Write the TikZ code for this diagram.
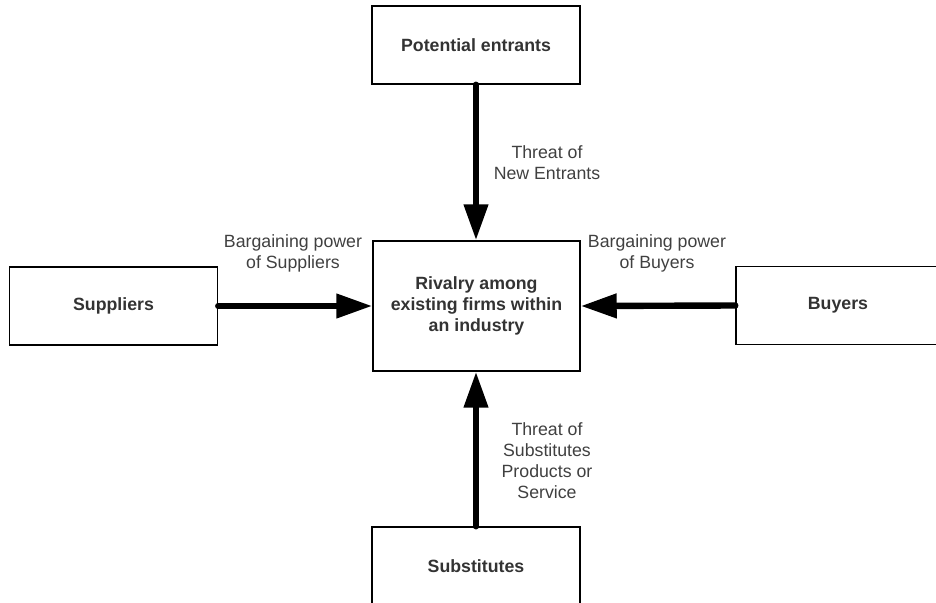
\documentclass[tikz,border=0pt]{standalone}
\usepackage{fontspec}
\setmainfont{Liberation Sans}
\usetikzlibrary{arrows.meta}
\begin{document}
\begin{tikzpicture}[x=0.75pt,y=-0.75pt,
        forcebox/.style={draw,line width=1.1pt,minimum width=156pt,minimum height=58.5pt,align=center,
            font=\fontsize{13.3}{15.75}\selectfont\bfseries,text=black!80},
        pull/.style={line width=4.8pt,line cap=round,-{Triangle[length=27pt,width=17.5pt]}},
        note/.style={align=center,font=\fontsize{13.3}{15.75}\selectfont,text=black!75}]
        \clip (0,0) rectangle (936,603);

        \node[forcebox] (entrants) at (476,45) {Potential entrants};
        \node[forcebox,minimum width=155.25pt,minimum height=97.5pt] (rivalry) at (476.5,306)
            {Rivalry among\\existing firms within\\an industry};
        \node[forcebox] (suppliers) at (113.5,306) {Suppliers};
        \node[forcebox,minimum width=153pt] (buyers) at (838,305.5) {Buyers};
        \node[forcebox] (substitutes) at (476,566) {Substitutes};

        \draw[pull] (entrants.south) -- (entrants.south |- rivalry.north);
        \draw[pull] (substitutes.north) -- (substitutes.north |- rivalry.south);
        \draw[pull] (suppliers.east) -- (rivalry.west);
        \draw[pull] (buyers.west) -- (rivalry.east);

        \node[note] (newthreat) at (547,162.5) {Threat of\\New Entrants};
        \node[note] (supplierpower) at (293,253) {Bargaining power\\of Suppliers};
        \node[note] (buyerpower) at (657,253) {Bargaining power\\of Buyers};
        \node[note] (subthreat) at (547,460.5) {Threat of\\Substitutes\\Products or\\Service};
\end{tikzpicture}
\end{document}
